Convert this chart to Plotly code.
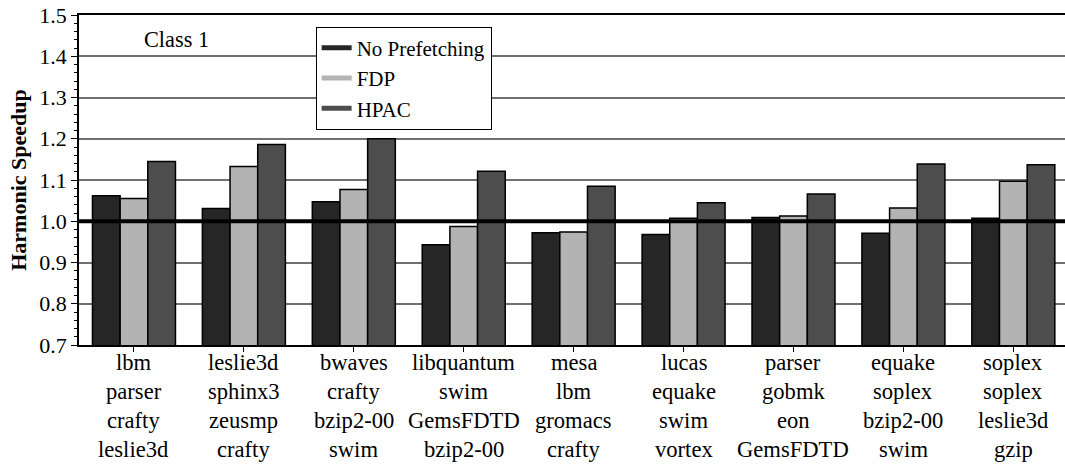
import plotly.graph_objects as go

# Four-benchmark workload mixes (one column per group)
workloads = [
    ["lbm", "parser", "crafty", "leslie3d"],
    ["leslie3d", "sphinx3", "zeusmp", "crafty"],
    ["bwaves", "crafty", "bzip2-00", "swim"],
    ["libquantum", "swim", "GemsFDTD", "bzip2-00"],
    ["mesa", "lbm", "gromacs", "crafty"],
    ["lucas", "equake", "swim", "vortex"],
    ["parser", "gobmk", "eon", "GemsFDTD"],
    ["equake", "soplex", "bzip2-00", "swim"],
    ["soplex", "soplex", "leslie3d", "gzip"],
]

no_prefetching = [1.062, 1.031, 1.047, 0.943, 0.972, 0.968, 1.009, 0.971, 1.007]
fdp = [1.055, 1.133, 1.077, 0.987, 0.974, 1.007, 1.013, 1.032, 1.097]
hpac = [1.145, 1.186, 1.200, 1.121, 1.085, 1.045, 1.066, 1.139, 1.137]

series = [
    ("No Prefetching", no_prefetching, "#262626"),
    ("FDP", fdp, "#b3b3b3"),
    ("HPAC", hpac, "#4d4d4d"),
]

FONT = "Liberation Serif"
positions = list(range(len(workloads)))

fig = go.Figure()
for name, values, color in series:
    fig.add_trace(go.Bar(
        x=positions, y=values, name=name, showlegend=False,
        marker=dict(color=color, line=dict(color="black", width=1.5)),
    ))
# legend entries drawn as thick line swatches
for name, values, color in series:
    fig.add_trace(go.Scatter(
        x=[None], y=[None], mode="lines", name=name,
        line=dict(color=color, width=5),
    ))

# baseline at speedup 1.0
fig.add_shape(type="line", xref="paper", yref="y", x0=0, x1=1, y0=1.0, y1=1.0,
              line=dict(color="black", width=4), layer="above")

fig.add_annotation(x=0.39, y=1.44, xref="x", yref="y", text="Class 1",
                   showarrow=False, font=dict(family=FONT, size=22.3, color="black"))

# workload names stacked under each group, four rows
PLOT_H = 330
ROW_TOP_PX = 18
ROW_STEP_PX = 28.7
for i, mix in enumerate(workloads):
    for r, bench in enumerate(mix):
        fig.add_annotation(
            x=positions[i], xref="x", yref="paper",
            y=-(ROW_TOP_PX + r * ROW_STEP_PX) / PLOT_H, yanchor="middle",
            text=bench, showarrow=False,
            font=dict(family=FONT, size=22.6, color="black"),
        )

fig.update_layout(
    width=1065, height=465,
    margin=dict(l=79, r=0, t=15, b=120),
    paper_bgcolor="white", plot_bgcolor="white",
    font=dict(family=FONT, size=22, color="black"),
    barmode="group", bargap=0.245, bargroupgap=0,
    legend=dict(
        x=0.24, y=0.965, xanchor="left", yanchor="top",
        bgcolor="white", bordercolor="black", borderwidth=1,
        font=dict(family=FONT, size=21, color="black"),
        tracegroupgap=0,
    ),
)

fig.update_xaxes(
    range=[-0.5, 8.47], tickmode="array", tickvals=positions, showticklabels=False,
    ticks="outside", ticklen=5, tickcolor="black", tickwidth=1,
    showline=True, linecolor="black", linewidth=1.5, mirror=True,
    showgrid=False, zeroline=False,
)
fig.update_yaxes(
    range=[0.7, 1.5], dtick=0.1, tickformat=".1f",
    ticks="outside", ticklen=6, tickcolor="black", tickwidth=1,
    minor=dict(dtick=0.02, ticks="outside", ticklen=3, tickcolor="black", showgrid=False),
    showline=True, linecolor="black", linewidth=1.5,
    showgrid=True, gridcolor="#707070", gridwidth=1.5, zeroline=False,
    tickfont=dict(family=FONT, size=22, color="black"),
    title=dict(text="<b>Harmonic Speedup</b>", font=dict(family=FONT, size=22, color="black"),
               standoff=7),
)

fig.write_html("out.html")
